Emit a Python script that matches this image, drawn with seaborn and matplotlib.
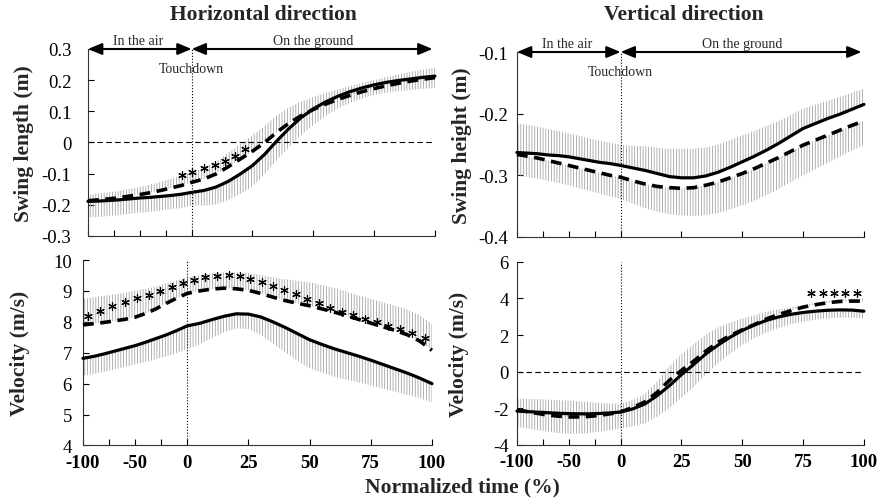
import numpy as np
import matplotlib
matplotlib.use("Agg")
import matplotlib.pyplot as plt
import seaborn as sns

# normalized time: air phase (-100..0) and ground phase (0..100)
x_pct = [-100, -90, -80, -70, -60, -50, -40, -30, -20, -10,
         0, 5, 10, 15, 20, 25, 30, 35, 40, 45, 50,
         55, 60, 65, 70, 75, 80, 85, 90, 95, 100]

# swing length (m), horizontal
len_solid = [-0.189, -0.188, -0.186, -0.184, -0.181, -0.178, -0.176, -0.173, -0.170, -0.166,
             -0.160, -0.154, -0.143, -0.125, -0.101, -0.074, -0.038, 0.005, 0.045, 0.080, 0.108,
             0.130, 0.148, 0.163, 0.175, 0.185, 0.193, 0.199, 0.204, 0.209, 0.213]
len_solid_sd = [0.052, 0.051, 0.050, 0.049, 0.048, 0.047, 0.046, 0.045, 0.044, 0.044,
                0.043, 0.049, 0.055, 0.060, 0.064, 0.068, 0.064, 0.062, 0.060, 0.056, 0.052,
                0.045, 0.039, 0.036, 0.034, 0.032, 0.033, 0.034, 0.036, 0.037, 0.038]
len_dash = [-0.187, -0.184, -0.181, -0.177, -0.172, -0.167, -0.161, -0.154, -0.146, -0.138,
            -0.128, -0.117, -0.101, -0.078, -0.053, -0.028, 0.000, 0.033, 0.062, 0.086, 0.106,
            0.123, 0.138, 0.151, 0.163, 0.173, 0.182, 0.190, 0.197, 0.203, 0.208]
len_dash_sd = [0.019, 0.020, 0.021, 0.022, 0.023, 0.024, 0.026, 0.028, 0.029, 0.031,
               0.033, 0.036, 0.040, 0.044, 0.048, 0.051, 0.053, 0.054, 0.050, 0.045, 0.040,
               0.036, 0.032, 0.030, 0.028, 0.027, 0.028, 0.029, 0.030, 0.031, 0.032]

# swing height (m), vertical
ht_solid = [-0.263, -0.264, -0.265, -0.267, -0.268, -0.270, -0.273, -0.276, -0.279, -0.281,
            -0.284, -0.288, -0.292, -0.297, -0.302, -0.304, -0.304, -0.301, -0.295, -0.287, -0.278,
            -0.269, -0.259, -0.248, -0.236, -0.224, -0.216, -0.208, -0.201, -0.193, -0.185]
ht_solid_sd = [0.047, 0.046, 0.044, 0.042, 0.040, 0.038, 0.037, 0.036, 0.035, 0.034,
               0.033, 0.036, 0.039, 0.042, 0.045, 0.047, 0.047, 0.046, 0.045, 0.044, 0.043,
               0.041, 0.039, 0.036, 0.034, 0.032, 0.031, 0.029, 0.028, 0.027, 0.026]
ht_dash = [-0.266, -0.269, -0.272, -0.276, -0.280, -0.284, -0.288, -0.292, -0.296, -0.300,
           -0.303, -0.309, -0.314, -0.318, -0.320, -0.321, -0.320, -0.316, -0.311, -0.304, -0.297,
           -0.289, -0.280, -0.271, -0.261, -0.251, -0.243, -0.235, -0.227, -0.219, -0.212]
ht_dash_sd = [0.034, 0.034, 0.033, 0.033, 0.032, 0.032, 0.033, 0.033, 0.034, 0.034,
              0.035, 0.037, 0.039, 0.041, 0.043, 0.044, 0.046, 0.048, 0.050, 0.051, 0.052,
              0.052, 0.052, 0.051, 0.050, 0.049, 0.047, 0.045, 0.043, 0.041, 0.039]

# velocity (m/s), horizontal
vh_solid = [6.82, 6.88, 6.96, 7.05, 7.14, 7.23, 7.34, 7.46, 7.58, 7.72,
            7.87, 7.95, 8.07, 8.18, 8.26, 8.25, 8.16, 8.00, 7.82, 7.62, 7.42,
            7.27, 7.13, 7.01, 6.89, 6.76, 6.62, 6.48, 6.34, 6.18, 6.00]
vh_solid_sd = [0.56, 0.57, 0.58, 0.59, 0.60, 0.61, 0.64, 0.67, 0.70, 0.73,
               0.75, 0.68, 0.60, 0.52, 0.48, 0.48, 0.58, 0.70, 0.80, 0.88, 0.92,
               0.92, 0.90, 0.88, 0.85, 0.82, 0.78, 0.74, 0.70, 0.65, 0.61]
vh_dash = [7.90, 7.94, 7.98, 8.03, 8.08, 8.15, 8.27, 8.42, 8.60, 8.77,
           8.92, 9.00, 9.06, 9.09, 9.07, 9.02, 8.92, 8.80, 8.69, 8.60, 8.52,
           8.42, 8.32, 8.20, 8.08, 7.96, 7.84, 7.72, 7.58, 7.38, 7.08]
vh_dash_sd = [0.84, 0.85, 0.86, 0.86, 0.86, 0.86, 0.80, 0.72, 0.64, 0.57,
              0.52, 0.51, 0.51, 0.51, 0.53, 0.56, 0.60, 0.64, 0.69, 0.73, 0.76,
              0.77, 0.78, 0.78, 0.78, 0.78, 0.79, 0.80, 0.82, 0.83, 0.85]

# velocity (m/s), vertical
vv_solid = [-2.15, -2.18, -2.21, -2.24, -2.27, -2.29, -2.30, -2.30, -2.28, -2.25,
            -2.20, -2.03, -1.76, -1.31, -0.77, -0.16, 0.39, 0.97, 1.45, 1.88, 2.25,
            2.55, 2.80, 2.99, 3.13, 3.23, 3.30, 3.35, 3.37, 3.36, 3.30]
vv_solid_sd = [0.86, 0.92, 0.98, 1.04, 1.08, 1.10, 1.08, 1.04, 0.98, 0.94,
               0.90, 0.95, 1.05, 1.15, 1.22, 1.26, 1.22, 1.12, 1.00, 0.90, 0.80,
               0.72, 0.65, 0.60, 0.55, 0.50, 0.47, 0.44, 0.42, 0.41, 0.40]
vv_dash = [-2.08, -2.18, -2.28, -2.37, -2.43, -2.47, -2.47, -2.44, -2.38, -2.30,
           -2.20, -1.95, -1.65, -1.13, -0.48, 0.07, 0.57, 1.12, 1.60, 1.97, 2.28,
           2.57, 2.88, 3.12, 3.33, 3.52, 3.65, 3.76, 3.83, 3.85, 3.85]
vv_dash_sd = [0.60, 0.70, 0.78, 0.84, 0.88, 0.89, 0.85, 0.78, 0.68, 0.56,
              0.44, 0.40, 0.45, 0.60, 0.78, 0.90, 0.92, 0.90, 0.82, 0.72, 0.62,
              0.50, 0.40, 0.28, 0.18, 0.12, 0.10, 0.10, 0.11, 0.12, 0.13]

# significance asterisks
len_star_x = [-9, 0.3, 5.0, 9.5, 13.9, 18.0, 21.8]
len_star_y = [-0.104, -0.096, -0.082, -0.071, -0.058, -0.044, -0.020]
vh_star_x = [-95, -84, -72, -60, -48, -37, -26, -15, -4.5, 2.6, 7.3, 12.1, 16.9, 21.4, 25.7,
             30.5, 35.2, 39.7, 44.4, 49.1, 53.9, 58.4, 63.1, 67.9, 72.7, 77.4, 82.2, 86.9, 91.7, 97.1]
vh_star_y = [8.20, 8.36, 8.50, 8.63, 8.76, 8.88, 9.01, 9.14, 9.25, 9.36, 9.44, 9.49, 9.51, 9.47, 9.39,
             9.29, 9.17, 9.03, 8.89, 8.75, 8.60, 8.46, 8.33, 8.21, 8.10, 7.99, 7.87, 7.76, 7.64, 7.47]
vv_star_x = [78.2, 83.0, 87.8, 92.2, 97.3]
vv_star_y = [4.3, 4.3, 4.3, 4.3, 4.3]

xticks = [-100, -75, -50, -25, 0, 25, 50, 75, 100]
xtick_labels = ["-100", "", "-50", "", "0", "25", "50", "75", "100"]

sns.set_style("ticks")
plt.rcParams["font.family"] = ["Liberation Serif", "DejaVu Serif"]
plt.rcParams["axes.unicode_minus"] = False
plt.rcParams["hatch.linewidth"] = 0.55
HATCH = "#9c9c9c"
plt.rcParams["hatch.color"] = HATCH

AIR = 0.426  # the air phase takes less width than the ground phase


def fwd(v):
    v = np.asarray(v, dtype=float)
    return np.where(v < 0, v * AIR, v)


def inv(v):
    v = np.asarray(v, dtype=float)
    return np.where(v < 0, v / AIR, v)


def draw_panel(ax, solid, solid_sd, solid_dir, dashed, dashed_sd, dashed_dir,
               ylim, yticks, ylabel, ypad, label_x, bottom_row):
    ax.set_xscale("function", functions=(fwd, inv))
    x = np.array(x_pct, dtype=float)
    for mean, sd, d in ((solid, solid_sd, solid_dir), (dashed, dashed_sd, dashed_dir)):
        m = np.array(mean)
        s = np.array(sd)
        ax.fill_between(x, m, m + d * s, facecolor="none", edgecolor=HATCH,
                        hatch="||||||", linewidth=0, zorder=1)
    sns.lineplot(x=x, y=solid, ax=ax, color="black", linewidth=2.3, zorder=3, clip_on=False)
    sns.lineplot(x=x, y=dashed, ax=ax, color="black", linewidth=2.6, zorder=3,
                 linestyle=(0, (3.0, 1.8)), clip_on=False)
    ax.axvline(0, color="black", linestyle=":", linewidth=0.8, zorder=2)
    if ylim[0] < 0 < ylim[1]:
        ax.axhline(0, color="black", linestyle=(0, (5, 3)), linewidth=0.8, zorder=2)

    ax.set_xlim(-100, 100)
    ax.set_ylim(*ylim)
    ax.set_xticks(xticks)
    ax.set_yticks(yticks)
    ax.set_yticklabels(["%g" % t for t in yticks], fontsize=13.5)
    if bottom_row:
        ax.set_xticklabels(xtick_labels, fontsize=13.5, fontweight="bold")
    else:
        ax.set_xticklabels([])
    ax.tick_params(axis="both", direction="in", length=4, width=0.8, colors="black")
    ax.tick_params(axis="y", pad=ypad)
    ax.tick_params(axis="x", pad=6)
    ax.set_xlabel("")
    ax.set_ylabel(ylabel, fontsize=15.5, fontweight="bold")
    ax.yaxis.set_label_coords(label_x, 0.5)
    sns.despine(ax=ax)
    for sp in ("left", "bottom"):
        ax.spines[sp].set_linewidth(0.8)
        ax.spines[sp].set_color("#333333")


def phase_arrows(ax, top):
    arrow = dict(arrowstyle="<|-|>,head_length=0.6,head_width=0.25", color="black",
                 lw=1.5, mutation_scale=14, shrinkA=0, shrinkB=0)
    ax.annotate("", xy=(-100, top), xytext=(0, top), arrowprops=arrow, annotation_clip=False)
    ax.annotate("", xy=(0, top), xytext=(99, top), arrowprops=arrow, annotation_clip=False)
    ax.annotate("In the air", xy=(-52, top), xytext=(0, 1.5), textcoords="offset points",
                ha="center", va="bottom", fontsize=10, annotation_clip=False)
    ax.annotate("On the ground", xy=(50, top), xytext=(0, 1.5), textcoords="offset points",
                ha="center", va="bottom", fontsize=10, annotation_clip=False)
    ax.annotate("Touchdown", xy=(0, top), xytext=(0, -14), textcoords="offset points",
                ha="center", va="center", fontsize=10, annotation_clip=False)


def stars(ax, xs, ys):
    # six-spoke asterisk markers
    sns.scatterplot(x=xs, y=ys, ax=ax, marker=(6, 2, 0), s=30, color="black",
                    linewidth=0.85, zorder=4, clip_on=False, legend=False)


fig = plt.figure(figsize=(8.78, 5.02), dpi=100)
ax_len = fig.add_axes([0.1002, 0.5279, 0.3952, 0.3725])
ax_ht = fig.add_axes([0.5888, 0.5259, 0.3952, 0.3685])
ax_vh = fig.add_axes([0.0945, 0.1106, 0.3975, 0.3694])
ax_vv = fig.add_axes([0.5888, 0.1116, 0.3952, 0.3651])

draw_panel(ax_len, len_solid, len_solid_sd, -1, len_dash, len_dash_sd, 1,
           (-0.3, 0.3), [-0.3, -0.2, -0.1, 0, 0.1, 0.2, 0.3], "Swing length (m)", 12, -0.155, False)
draw_panel(ax_ht, ht_solid, ht_solid_sd, 1, ht_dash, ht_dash_sd, -1,
           (-0.4, -0.1), [-0.4, -0.3, -0.2, -0.1], "Swing height (m)", 6.5, -0.13, False)
draw_panel(ax_vh, vh_solid, vh_solid_sd, -1, vh_dash, vh_dash_sd, 1,
           (4, 10), [4, 5, 6, 7, 8, 9, 10], "Velocity (m/s)", 8, -0.152, True)
draw_panel(ax_vv, vv_solid, vv_solid_sd, -1, vv_dash, vv_dash_sd, 1,
           (-4, 6), [-4, -2, 0, 2, 4, 6], "Velocity (m/s)", 6, -0.137, True)

phase_arrows(ax_len, 0.3)
phase_arrows(ax_ht, -0.1)
stars(ax_len, len_star_x, len_star_y)
stars(ax_vh, vh_star_x, vh_star_y)
stars(ax_vv, vv_star_x, vv_star_y)

fig.text(0.2995, 0.970, "Horizontal direction", ha="center", va="center",
         fontsize=15.5, fontweight="bold")
fig.text(0.779, 0.970, "Vertical direction", ha="center", va="center",
         fontsize=15.5, fontweight="bold")
fig.text(0.527, 0.028, "Normalized time (%)", ha="center", va="center",
         fontsize=15.5, fontweight="bold")

fig.savefig("out.png", dpi=100)
